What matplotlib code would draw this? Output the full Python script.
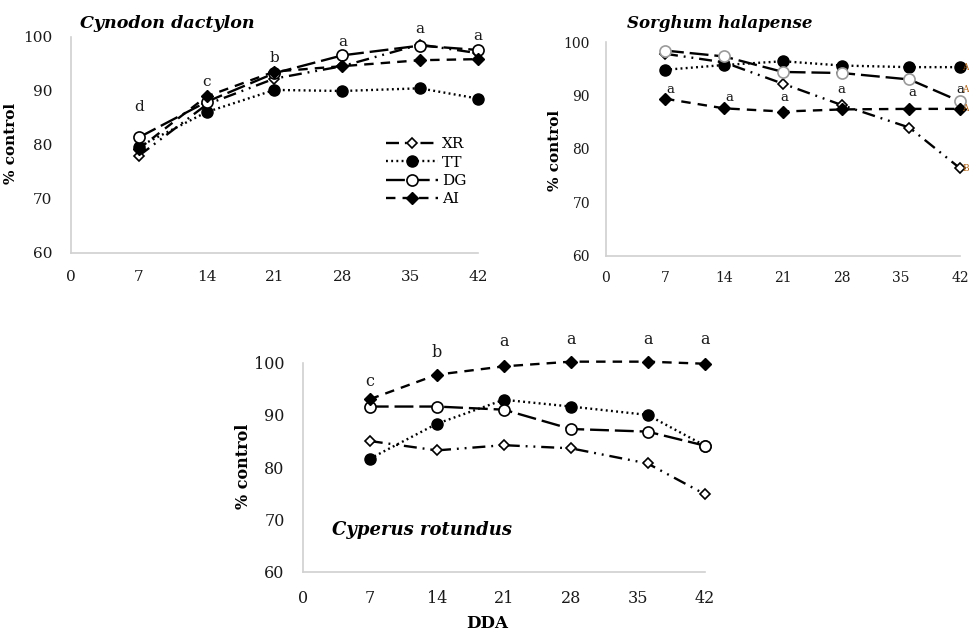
import matplotlib
matplotlib.use("Agg")
import matplotlib.pyplot as plt

plt.rcParams['font.family'] = ['DejaVu Serif']

# ---------------- data ----------------
dda = [7, 14, 21, 28, 36, 42]
tick_labels = ["0", "7", "14", "21", "28", "35", "42"]
tick_pos = [0, 7, 14, 21, 28, 35, 42]
series_names = ["XR", "TT", "DG", "AI"]

cyn_XR = [78.0, 87.5, 92.3, 94.6, 98.6, 97.0]
cyn_TT = [79.7, 86.1, 90.2, 90.0, 90.5, 88.6]
cyn_DG = [81.4, 88.0, 93.3, 96.6, 98.4, 97.6]
cyn_AI = [79.3, 89.0, 93.6, 94.6, 95.7, 95.9]
cyn_letters = ["d", "c", "b", "a", "a", "a"]

sor_XR = [97.8, 96.2, 92.2, 88.2, 84.0, 76.4]
sor_TT = [94.8, 95.7, 96.4, 95.6, 95.3, 95.3]
sor_DG = [98.4, 97.3, 94.4, 94.2, 93.0, 88.9]
sor_AI = [89.4, 87.6, 87.0, 87.4, 87.5, 87.5]
sor_letters = ["a", "a", "a", "a", "a", "a"]
sor_end_letters = ["A", "A", "A", "B"]

cyp_XR = [85.0, 83.2, 84.2, 83.6, 80.7, 74.8]
cyp_TT = [81.6, 88.3, 92.9, 91.6, 90.0, 84.1]
cyp_DG = [91.6, 91.6, 91.0, 87.3, 86.8, 84.1]
cyp_AI = [93.0, 97.7, 99.3, 100.2, 100.2, 99.8]
cyp_letters = ["c", "b", "a", "a", "a", "a"]

# ---------------- styles ----------------
LW = 1.7
styles = {
    "XR": dict(ls=(0, (5.5, 2.5, 0.8, 2.5, 0.8, 2.5)), marker="D", mfc="white", mec="black", ms=5.5, mew=1.2),
    "TT": dict(ls=(0, (0.8, 1.4)), marker="o", mfc="black", mec="black", ms=8, mew=1.0),
    "DG": dict(ls=(0, (8, 2.5)), marker="o", mfc="white", mec="black", ms=8, mew=1.2),
    "AI": dict(ls=(0, (4, 3)), marker="D", mfc="black", mec="black", ms=6, mew=1.0),
}

W, H = 969, 632
fig = plt.figure(figsize=(W / 100, H / 100), dpi=100)


def axes_px(left, right, bottom, top):
    return fig.add_axes([left / W, 1 - bottom / H, (right - left) / W, (bottom - top) / H])


def style_axes(ax, tick_fs, xpad, ypad):
    ax.set_xlim(0, 42)
    ax.set_ylim(60, 100)
    ax.set_xticks(tick_pos)
    ax.set_xticklabels(tick_labels)
    ax.set_yticks([60, 70, 80, 90, 100])
    for s in ["top", "right"]:
        ax.spines[s].set_visible(False)
    for s in ["left", "bottom"]:
        ax.spines[s].set_color("#d0d0d0")
        ax.spines[s].set_linewidth(1.2)
    ax.tick_params(axis="both", length=0, labelsize=tick_fs, colors="#1a1a1a")
    ax.tick_params(axis="x", pad=xpad)
    ax.tick_params(axis="y", pad=ypad)
    ax.patch.set_alpha(0)


def draw_series(ax, data, dg_edge="black"):
    lines = []
    for name, vals in zip(series_names, data):
        st = dict(styles[name])
        if name == "DG":
            st["mec"] = dg_edge
        ln, = ax.plot(dda, vals, color="black", lw=LW, clip_on=False, zorder=3, label=name, **st)
        lines.append(ln)
    return lines


# ---------- Panel 1: Cynodon dactylon ----------
ax1 = axes_px(71, 478, 253, 37)
style_axes(ax1, 11, 12.5, 13.5)
l1 = draw_series(ax1, [cyn_XR, cyn_TT, cyn_DG, cyn_AI])
cyn_off = [5.6, 2.7, 2.5, 2.5, 2.8, 2.5]
for x, let, off, *vals in zip(dda, cyn_letters, cyn_off, cyn_XR, cyn_TT, cyn_DG, cyn_AI):
    ax1.text(x, max(vals) + off, let, ha="center", va="center", fontsize=11, color="#1a1a1a", clip_on=False)
ax1.set_ylabel("% control", fontsize=11, fontweight="bold")
ax1.yaxis.set_label_coords(-0.130, 0.505)
fig.text(80 / W, 1 - 24 / H, "Cynodon dactylon", fontsize=12.6, fontweight="bold", style="italic",
         ha="left", va="center")
leg = ax1.legend(handles=l1, loc="upper left", bbox_to_anchor=(0.775, 0.535), frameon=False,
                 fontsize=11, handlelength=3.4, handletextpad=0.25, labelspacing=0.28,
                 borderaxespad=0, borderpad=0, numpoints=1)

# ---------- Panel 2: Sorghum halapense ----------
ax2 = axes_px(606, 960, 256, 42)
style_axes(ax2, 10, 11, 11.5)
draw_series(ax2, [sor_XR, sor_TT, sor_DG, sor_AI], dg_edge="#9a9a9a")
sor_off = [1.7, 2.1, 2.6, 3.7, 3.0, 3.6]
sor_dx = [0.6, 0.6, 0.2, -0.1, 0.4, 0.0]
for x, let, off, dx, v in zip(dda, sor_letters, sor_off, sor_dx, sor_AI):
    ax2.text(x + dx, v + off, let, ha="center", va="center", fontsize=9.5, color="#1a1a1a", clip_on=False)
end_y = [sor_TT[-1], sor_DG[-1] + 2.2, sor_AI[-1], sor_XR[-1]]
for let, y in zip(sor_end_letters, end_y):
    ax2.text(42.25, y, let, ha="left", va="center", fontsize=6.5, color="#b06010", clip_on=False)
ax2.set_ylabel("% control", fontsize=11, fontweight="bold")
ax2.yaxis.set_label_coords(-0.124, 0.493)
fig.text(627 / W, 1 - 23 / H, "Sorghum halapense", fontsize=12, fontweight="bold", style="italic",
         ha="left", va="center")

# ---------- Panel 3: Cyperus rotundus ----------
ax3 = axes_px(302.7, 705, 571.5, 362.7)
style_axes(ax3, 11.5, 13.5, 13)
draw_series(ax3, [cyp_XR, cyp_TT, cyp_DG, cyp_AI])
cyp_off = [3.4, 4.2, 4.7, 4.3, 4.3, 4.7]
for x, let, off, v in zip(dda, cyp_letters, cyp_off, cyp_AI):
    ax3.text(x, v + off, let, ha="center", va="center", fontsize=11.5, color="#1a1a1a", clip_on=False)
ax3.set_ylabel("% control", fontsize=11.5, fontweight="bold")
ax3.yaxis.set_label_coords(-0.127, 0.502)
fig.text(332 / W, 1 - 530 / H, "Cyperus rotundus", fontsize=13, fontweight="bold", style="italic",
         ha="left", va="center")
fig.text(487 / W, 1 - 623 / H, "DDA", fontsize=12, fontweight="bold", ha="center", va="center")

fig.savefig("out.png", dpi=100)
